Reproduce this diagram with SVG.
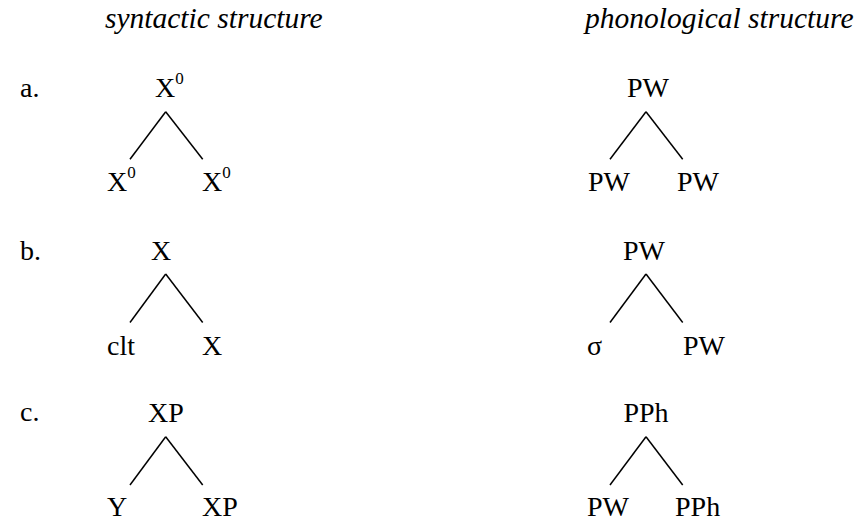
<svg xmlns="http://www.w3.org/2000/svg" width="855" height="521" viewBox="0 0 855 521">
<style>
text{font-family:"Liberation Serif","Times New Roman",serif;font-size:28px;fill:#000}
.h{font-style:italic;font-size:29.5px}
.m{text-anchor:middle}
.s{font-size:17px}
line{stroke:#000;stroke-width:1.5;stroke-linecap:butt}
</style>
<rect width="855" height="521" fill="#fff"/>
<g id="headers">
<text class="h" x="105" y="28">syntactic structure</text>
<text class="h" x="585" y="28">phonological structure</text>
</g>
<g id="labels">
<text x="20" y="97">a.</text>
<text x="20" y="260">b.</text>
<text x="20" y="421">c.</text>
</g>
<g id="connectors">
<line x1="165.7" y1="111.7" x2="130" y2="159.3"/>
<line x1="165.7" y1="111.7" x2="202.7" y2="159.3"/>
<line x1="646" y1="111.7" x2="610" y2="159.3"/>
<line x1="646" y1="111.7" x2="682.7" y2="159.3"/>
<line x1="165.7" y1="274" x2="130" y2="322.5"/>
<line x1="165.7" y1="274" x2="202.7" y2="322.5"/>
<line x1="646" y1="274" x2="610" y2="322.5"/>
<line x1="646" y1="274" x2="682.7" y2="322.5"/>
<line x1="165.7" y1="436.7" x2="130" y2="485"/>
<line x1="165.7" y1="436.7" x2="202.7" y2="485"/>
<line x1="646" y1="436.7" x2="610" y2="485"/>
<line x1="646" y1="436.7" x2="682.7" y2="485"/>
</g>
<g id="a-syn-top"><text x="155" y="97">X<tspan class="s" dy="-13">0</tspan></text></g>
<g id="a-syn-left"><text x="107" y="191">X<tspan class="s" dy="-13">0</tspan></text></g>
<g id="a-syn-right"><text x="202" y="191">X<tspan class="s" dy="-13">0</tspan></text></g>
<g id="a-pho-top"><text class="m" x="648" y="97">PW</text></g>
<g id="a-pho-left"><text x="588" y="191">PW</text></g>
<g id="a-pho-right"><text x="677" y="191">PW</text></g>
<g id="b-syn-top"><text x="151" y="260">X</text></g>
<g id="b-syn-left"><text x="107" y="355">clt</text></g>
<g id="b-syn-right"><text x="202" y="355">X</text></g>
<g id="b-pho-top"><text class="m" x="644" y="260">PW</text></g>
<g id="b-pho-left"><text x="587" y="355">σ</text></g>
<g id="b-pho-right"><text x="683" y="355">PW</text></g>
<g id="c-syn-top"><text x="148" y="422">XP</text></g>
<g id="c-syn-left"><text x="107" y="516">Y</text></g>
<g id="c-syn-right"><text x="202" y="516">XP</text></g>
<g id="c-pho-top"><text class="m" x="646" y="422">PPh</text></g>
<g id="c-pho-left"><text x="587" y="516">PW</text></g>
<g id="c-pho-right"><text x="675" y="516">PPh</text></g>
</svg>
